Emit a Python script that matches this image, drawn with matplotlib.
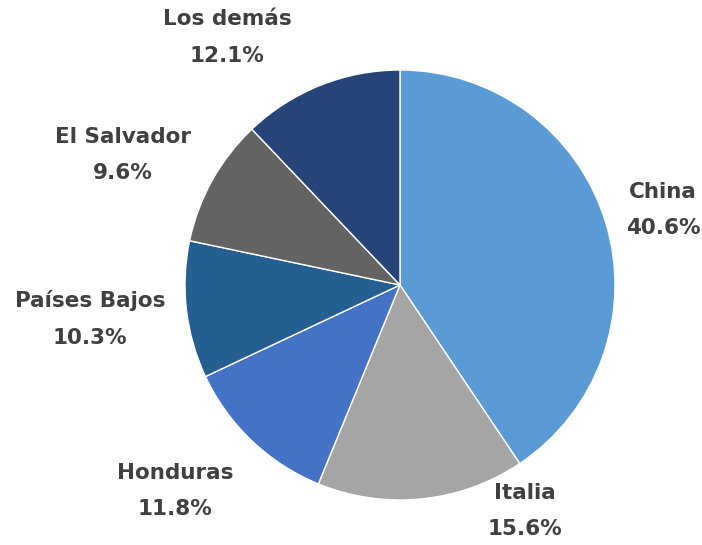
import matplotlib.pyplot as plt

paises = ["China", "Italia", "Honduras", "Países Bajos", "El Salvador", "Los demás"]
porcentajes = [40.6, 15.6, 11.8, 10.3, 9.6, 12.1]
colores = ["#5B9BD5", "#A5A5A5", "#4472C4", "#255E91", "#636363", "#264478"]

# posiciones de las etiquetas (en radios del pastel, centro = 0,0)
pos_etiquetas = [(1.223, 0.349), (0.581, -1.051), (-1.047, -0.958),
                 (-1.442, -0.158), (-1.288, 0.605), (-0.805, 1.153)]

fig = plt.figure(figsize=(7.02, 5.45), dpi=100)
ax = fig.add_axes([185 / 702, 45 / 545, 430 / 702, 430 / 545])

wedges, _ = ax.pie(
    porcentajes,
    colors=colores,
    startangle=90,
    counterclock=False,
    wedgeprops=dict(edgecolor="white", linewidth=1),
)

for p, v, (x, y) in zip(paises, porcentajes, pos_etiquetas):
    ax.text(x, y, f"{p}\n{v:.1f}%", ha="center", va="center",
            fontsize=15.5, fontweight="bold", color="#404040",
            family="DejaVu Sans", linespacing=2.05)

ax.set_xlim(-1, 1)
ax.set_ylim(-1, 1)
ax.set_aspect("equal")

fig.savefig("out.png", dpi=100)
